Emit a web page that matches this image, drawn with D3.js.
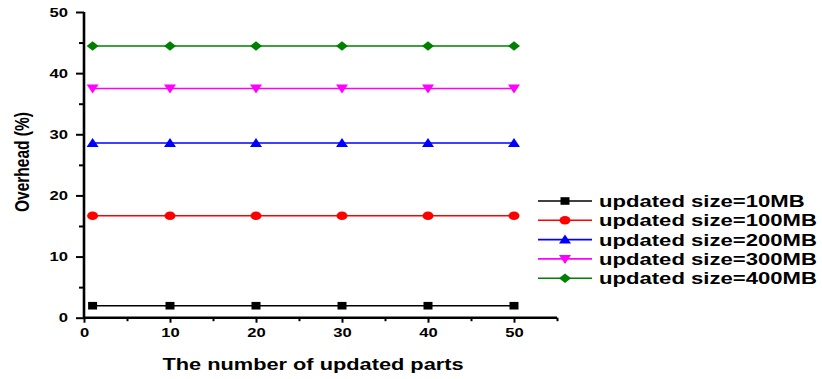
<!DOCTYPE html>
<html>
<head>
<meta charset="utf-8">
<script src="https://cdn.jsdelivr.net/npm/d3@7"></script>
<style>
  html, body { margin: 0; padding: 0; background: #fff; }
  svg { display: block; font-family: "Liberation Sans", Arial, sans-serif; }
</style>
</head>
<body>
<svg id="chart" width="822" height="379"></svg>
<script>
// Number of updated parts (x) and overhead (%) for each update size
const parts = [1, 10, 20, 30, 40, 50];
const seriesNames = ["updated size=10MB", "updated size=100MB", "updated size=200MB", "updated size=300MB", "updated size=400MB"];
const overhead10 = [1.96, 1.96, 1.96, 1.96, 1.96, 1.96];
const overhead100 = [16.67, 16.67, 16.67, 16.67, 16.67, 16.67];
const overhead200 = [28.57, 28.57, 28.57, 28.57, 28.57, 28.57];
const overhead300 = [37.5, 37.5, 37.5, 37.5, 37.5, 37.5];
const overhead400 = [44.44, 44.44, 44.44, 44.44, 44.44, 44.44];
const seriesColors = ["#000000", "#ff0000", "#0000ff", "#ff00ff", "#008000"];
const seriesShapes = ["square", "circle", "triangleUp", "triangleDown", "diamond"];
const xTicks = [0, 10, 20, 30, 40, 50];
const yTicks = [0, 10, 20, 30, 40, 50];

const allValues = [overhead10, overhead100, overhead200, overhead300, overhead400];

// all lettering is set in a wide bold sans
const STRETCH = 1.3;

const svg = d3.select("#chart");
const x = d3.scaleLinear().domain([0, 55]).range([84, 557]);
const y = d3.scaleLinear().domain([0, 50]).range([317.7, 12]);

// marker shapes, slightly wider than tall
function markerPath(shape) {
  switch (shape) {
    case "square": return "M-4.5,-3.8H4.5V3.8H-4.5Z";
    case "circle": return "M-5.5,0A5.5,4.3 0 1,0 5.5,0A5.5,4.3 0 1,0 -5.5,0Z";
    case "triangleUp": return "M0,-5L6,4H-6Z";
    case "triangleDown": return "M0,5L6,-4H-6Z";
    case "diamond": return "M0,-4.8L6,0L0,4.8L-6,0Z";
  }
}

// series lines and markers
const line = d3.line().x((d, i) => x(parts[i])).y(d => y(d));
allValues.forEach((vals, s) => {
  const g = svg.append("g");
  g.append("path").datum(vals).attr("d", line)
    .attr("fill", "none").attr("stroke", seriesColors[s]).attr("stroke-width", 1.6);
  g.selectAll("path.m").data(vals).join("path").attr("class", "m")
    .attr("transform", (d, i) => `translate(${x(parts[i])},${y(d)})`)
    .attr("d", markerPath(seriesShapes[s]))
    .attr("fill", seriesColors[s]);
});

// axes
const xAxis = d3.axisBottom(x).tickValues(xTicks).tickSize(5).tickPadding(5).tickFormat(d3.format("d"));
const xMinor = d3.axisBottom(x).tickValues([5, 15, 25, 35, 45, 55]).tickSize(3.5).tickFormat("");
const yAxis = d3.axisLeft(y).tickValues(yTicks).tickSize(8).tickPadding(5).tickFormat(d3.format("d"));
const yMinor = d3.axisLeft(y).tickValues([5, 15, 25, 35, 45]).tickSize(5).tickFormat("");

function styleAxis(g) {
  g.select(".domain").attr("stroke", "#000").attr("stroke-width", 2.6);
  g.selectAll(".tick line").attr("stroke", "#000").attr("stroke-width", 2);
  g.selectAll(".tick text").attr("fill", "#000").attr("font-size", 12.8).attr("font-weight", "bold")
    .attr("font-family", "'Liberation Sans', Arial, sans-serif");
}

svg.append("g").attr("transform", `translate(0,${y(0)})`).call(xMinor).call(styleAxis).select(".domain").remove();
const gx = svg.append("g").attr("transform", `translate(0,${y(0)})`).call(xAxis).call(styleAxis);
gx.select(".domain").attr("d", `M${x(0)},0H${x(55)}`);
gx.selectAll(".tick text").attr("transform", `scale(${STRETCH},1)`);

svg.append("g").attr("transform", `translate(${x(0)},0)`).call(yMinor).call(styleAxis).select(".domain").remove();
const gy = svg.append("g").attr("transform", `translate(${x(0)},0)`).call(yAxis).call(styleAxis);
gy.select(".domain").attr("d", `M0,${y(0)}V${y(50)}`);
gy.selectAll(".tick text").attr("x", -16 / STRETCH).attr("transform", `scale(${STRETCH},1)`);

// axis titles
svg.append("text").attr("transform", `translate(313,370) scale(1.32,1)`).attr("text-anchor", "middle")
  .attr("font-size", 16.5).attr("font-weight", "bold")
  .text("The number of updated parts");
svg.append("text").attr("transform", `translate(29,162) scale(${STRETCH},1) rotate(-90)`).attr("text-anchor", "middle")
  .attr("font-size", 15.5).attr("font-weight", "bold")
  .text("Overhead (%)");

// legend
const legend = svg.append("g");
seriesNames.forEach((name, s) => {
  const ly = 201 + s * 19.3;
  legend.append("line").attr("x1", 538).attr("x2", 592).attr("y1", ly).attr("y2", ly)
    .attr("stroke", seriesColors[s]).attr("stroke-width", 1.6);
  legend.append("path").attr("transform", `translate(565,${ly})`)
    .attr("d", markerPath(seriesShapes[s])).attr("fill", seriesColors[s]);
  legend.append("text").attr("transform", `translate(599,${ly + 6}) scale(${STRETCH},1)`)
    .attr("font-size", 17).attr("font-weight", "bold").text(name);
});
</script>
</body>
</html>
